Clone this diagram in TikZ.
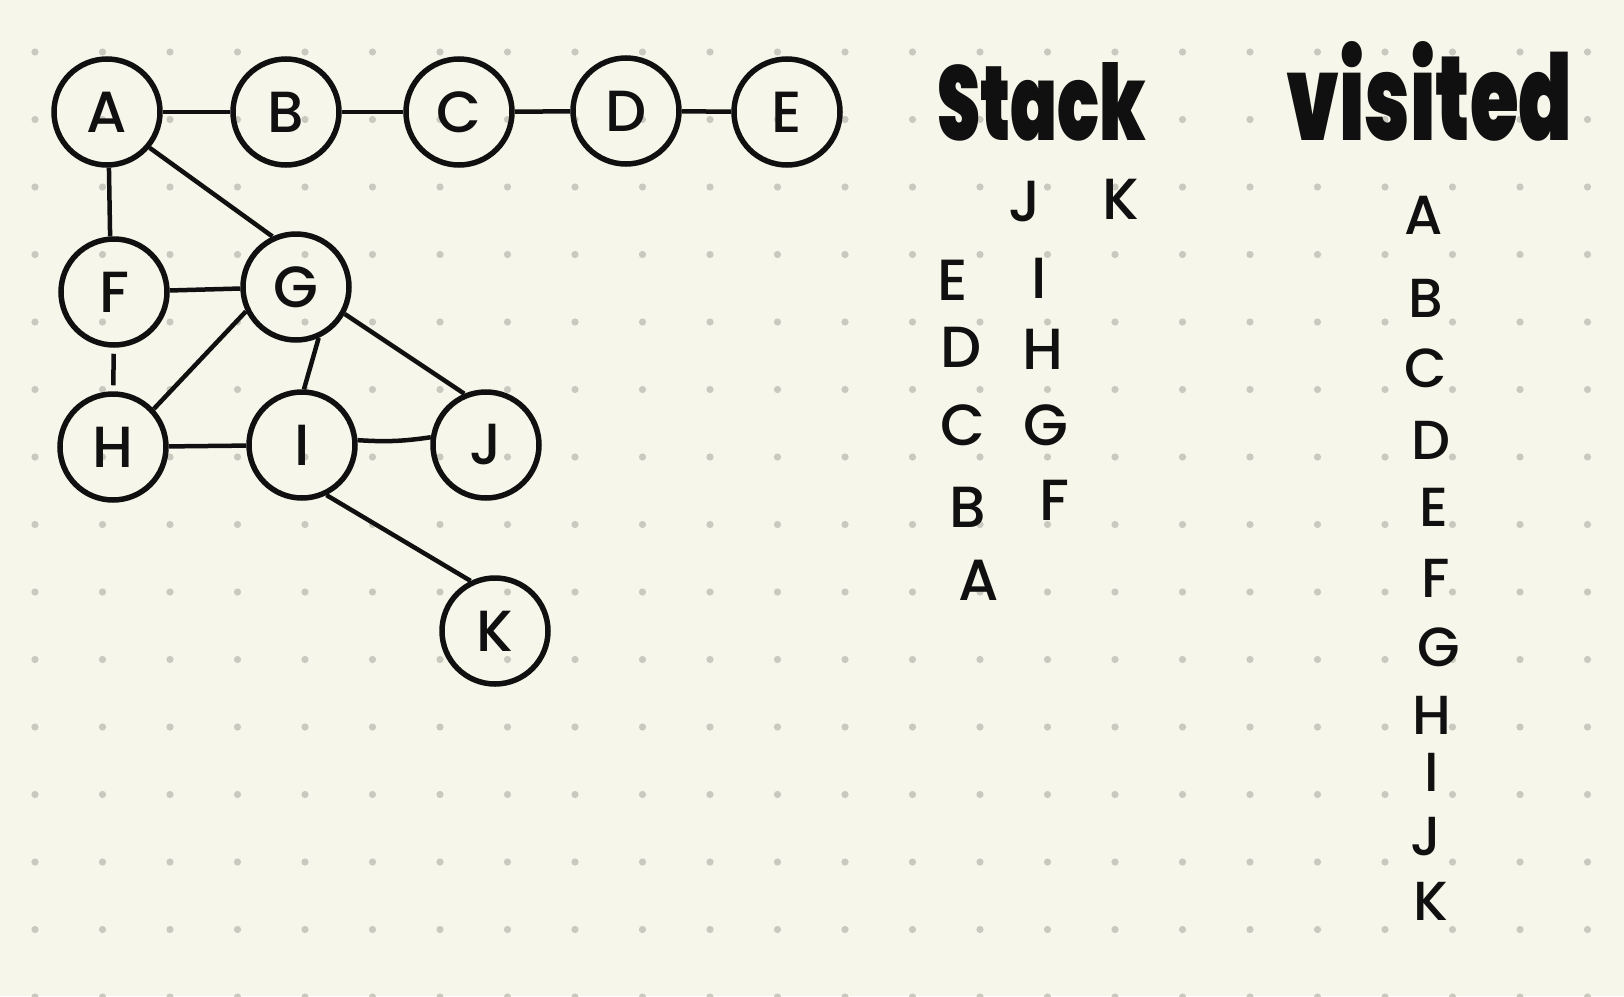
\documentclass[tikz,border=0pt]{standalone}
\usepackage{fontspec}
\setmainfont{Noto Sans}
\IfFontExistsTF{Poppins Black}{\newfontfamily\headfont{Poppins Black}}{\newfontfamily\headfont{DejaVu Sans Bold}}
\IfFontExistsTF{Poppins Medium}{\newfontfamily\handfont{Poppins Medium}}{\newfontfamily\handfont{Noto Sans}}
\definecolor{paper}{HTML}{F6F6EA}
\definecolor{dotc}{HTML}{C9C9C0}
\definecolor{ink}{HTML}{101010}
\tikzset{
  vtx/.style={circle, draw=ink, line width=5.5pt, minimum size=106pt, inner sep=0pt, text=ink, font=\handfont\fontsize{58}{58}\selectfont},
  edge/.style={draw=ink, line width=4.5pt},
  lbl/.style={inner sep=0pt, text=ink, font=\handfont\fontsize{58}{58}\selectfont},
  vlbl/.style={inner sep=0pt, text=ink, font=\handfont\fontsize{55}{55}\selectfont},
  head/.style={inner sep=0pt, text=ink, anchor=base west},
  griddot/.style={fill=dotc}
}
\begin{document}
\begin{tikzpicture}[x=1pt,y=-1pt]
\fill[paper] (0,0) rectangle (1624,996);
\useasboundingbox (0,0) rectangle (1624,996);
\foreach \i in {0,...,23}{\foreach \j in {0,...,14}{\fill[griddot] ({35+67.5*\i},{52+67.5*\j}) circle (3.6);}}
% graph
\node[vtx] (A) at (107,112) {A};
\node[vtx] (B) at (286,112) {B};
\node[vtx] (C) at (459,112) {C};
\node[vtx] (D) at (626,111) {D};
\node[vtx] (E) at (787,112) {E};
\node[vtx] (F) at (114,292) {F};
\node[vtx] (G) at (296,287) {G};
\node[vtx] (H) at (113,447) {H};
\node[vtx] (I) at (302,445) {I};
\node[vtx] (J) at (486,445) {J};
\node[vtx] (K) at (495,631) {K};
\draw[edge] (A) -- (B);
\draw[edge] (B) -- (C);
\draw[edge] (C) -- (D);
\draw[edge] (D) -- (E);
\draw[edge] (A.-88) -- (F.94);
\draw[edge] (A.-40) -- (G.115);
\draw[edge] (F) -- (G);
\draw[edge, shorten <=6pt, shorten >=6pt] (F) -- (H);
\draw[edge] (G.206) -- (H.43);
\draw[edge] (G.-66) -- (I.88);
\draw[edge] (G.-29) -- (J.113);
\draw[edge] (H) -- (I);
\draw[edge] (I.5) to[bend right=6] (J.172);
\draw[edge] (I.-64) -- (K.116);
% headings
\node[head] (stack) at (937,140) {\resizebox{209pt}{78pt}{\headfont Stack}};
\node[head] (visited) at (1286,140) {\resizebox{286pt}{99pt}{\headfont visited}};
% stack contents
\node[lbl] (sE) at (953,280) {E};
\node[lbl] (sD) at (961,347) {D};
\node[lbl] (sC) at (963,425) {C};
\node[lbl] (sB) at (968,507) {B};
\node[lbl] (sA) at (979,580) {A};
\node[lbl] (sJ) at (1025,202) {J};
\node[lbl] (sI) at (1039,278) {I};
\node[lbl] (sH) at (1043,349) {H};
\node[lbl] (sG) at (1046,425) {G};
\node[lbl] (sF) at (1054,500) {F};
\node[lbl] (sK) at (1121,199) {K};
% visited contents
\node[vlbl] (vA) at (1424,215) {A};
\node[vlbl] (vB) at (1426,298) {B};
\node[vlbl] (vC) at (1426,368) {C};
\node[vlbl] (vD) at (1431,440) {D};
\node[vlbl] (vE) at (1434,507) {E};
\node[vlbl] (vF) at (1436,578) {F};
\node[vlbl] (vG) at (1439,647) {G};
\node[vlbl] (vH) at (1432,715) {H};
\node[vlbl] (vI) at (1432,772) {I};
\node[vlbl] (vJ) at (1426,837) {J};
\node[vlbl] (vK) at (1431,901) {K};
\end{tikzpicture}
\end{document}
